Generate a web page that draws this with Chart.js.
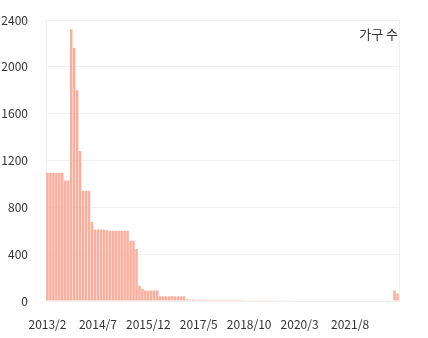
<!DOCTYPE html>
<html>
<head>
<meta charset="utf-8">
<script src="https://cdn.jsdelivr.net/npm/chart.js@4"></script>
<style>
html,body{margin:0;padding:0;background:#fff;}
#wrap{width:428px;height:338px;position:relative;}
</style>
</head>
<body>
<div id="wrap"><canvas id="c"></canvas></div>
<script>
// Categories: monthly, 2013/2 .. 2022/12
const startYear = 2013;
const startMonth = 2;
const monthCount = 119;
const categories = [];
for (let i = 0; i < monthCount; i++) {
  const m = startMonth - 1 + i;
  categories.push((startYear + Math.floor(m / 12)) + '/' + (m % 12 + 1));
}

const seriesLabel = '가구 수';

const householdCounts = [
  1095, 1095, 1095, 1095, 1095, 1095, 1030, 1030, 2320, 2160,
  1800, 1280, 940, 940, 940, 675, 610, 610, 610, 610,
  605, 600, 600, 600, 600, 600, 600, 600, 515, 515,
  445, 130, 105, 90, 90, 90, 90, 90, 40, 40,
  40, 40, 40, 40, 40, 40, 40, 15, 12, 12,
  10, 10, 10, 10, 8, 8, 8, 8, 8, 8,
  8, 8, 8, 8, 8, 8, 6, 6, 6, 6,
  6, 6, 6, 6, 6, 6, 6, 5, 5, 5,
  5, 5, 5, 0, 0, 0, 0, 0, 0, 0,
  0, 0, 0, 0, 0, 0, 0, 0, 0, 0,
  0, 0, 0, 0, 0, 0, 0, 0, 0, 0,
  0, 0, 0, 0, 0, 0, 0, 90, 65
];

const yTicks = [0, 400, 800, 1200, 1600, 2000, 2400];
const xLabelEvery = 17;

Chart.defaults.font.family = "'Noto Sans CJK KR', 'Noto Sans', sans-serif";
Chart.defaults.font.size = 12;
Chart.defaults.color = '#333';

const legendInArea = {
  id: 'legendInArea',
  afterDraw(chart) {
    const {ctx, chartArea} = chart;
    ctx.save();
    ctx.font = "13px 'Noto Sans CJK KR', 'Noto Sans', sans-serif";
    ctx.fillStyle = '#333';
    ctx.textAlign = 'right';
    ctx.textBaseline = 'middle';
    ctx.fillText(chart.data.datasets[0].label, chartArea.right - 1, chartArea.top + 14);
    ctx.restore();
  }
};

new Chart(document.getElementById('c'), {
  type: 'bar',
  data: {
    labels: categories,
    datasets: [{
      label: seriesLabel,
      data: householdCounts,
      backgroundColor: 'rgb(250,174,157)',
      borderWidth: 0,
      categoryPercentage: 0.9,
      barPercentage: 0.94
    }]
  },
  options: {
    responsive: true,
    maintainAspectRatio: false,
    animation: false,
    layout: { padding: { left: 0, right: 29, top: 20, bottom: 6 } },
    plugins: {
      legend: { display: false },
      tooltip: { enabled: false }
    },
    scales: {
      x: {
        grid: { display: false, drawTicks: false },
        border: { display: false },
        afterFit: (axis) => { axis.height = 31; axis.paddingLeft = 0; axis.paddingRight = 0; },
        ticks: {
          autoSkip: false,
          maxRotation: 0,
          padding: 16,
          callback: function(v, i) { return i % xLabelEvery === 0 ? categories[i] : null; }
        }
      },
      y: {
        min: 0,
        max: 2400,
        afterBuildTicks: (axis) => { axis.ticks = yTicks.map(v => ({value: v})); },
        afterFit: (axis) => { axis.width = 46; axis.paddingTop = 0; axis.paddingBottom = 0; },
        grid: { color: '#f0f0f0', drawTicks: false },
        border: { display: true, color: '#eeeeee' },
        ticks: { padding: 18, callback: (v) => String(v) }
      },
      y2: {
        position: 'right',
        display: true,
        afterFit: (axis) => { axis.width = 0; axis.paddingTop = 0; axis.paddingBottom = 0; },
        grid: { drawOnChartArea: false, drawTicks: false },
        border: { display: true, color: '#eeeeee' },
        ticks: { display: false }
      }
    }
  },
  plugins: [legendInArea]
});
</script>
</body>
</html>
